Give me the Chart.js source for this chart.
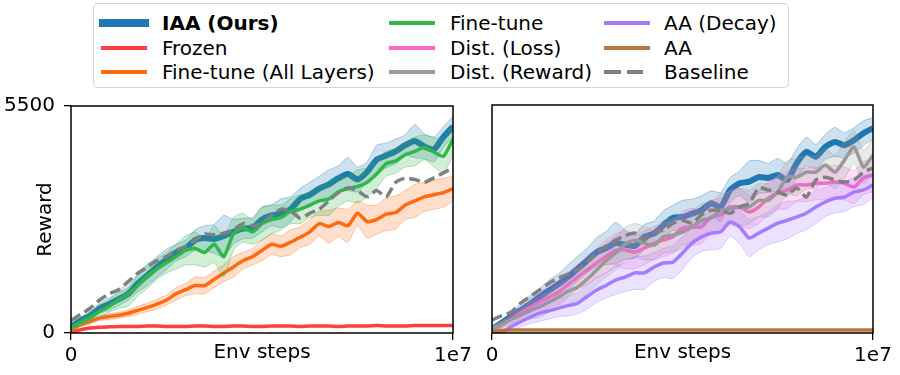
<!DOCTYPE html>
<html>
<head>
<meta charset="utf-8">
<script src="https://cdn.jsdelivr.net/npm/chart.js@4"></script>
<style>
  body { margin: 0; width: 900px; height: 375px; background: #fff; position: relative; overflow: hidden; font-family: "DejaVu Sans", sans-serif; }
  #legend { position: absolute; left: 93px; top: 3px; width: 696px; height: 85px; box-sizing: border-box; border: 1.5px solid #d4d4d4; border-radius: 5px; }
  .lg-line { position: absolute; height: 4px; }
  .lg-text { position: absolute; height: 24px; line-height: 24px; font-size: 20px; color: #000; white-space: nowrap; }
  canvas { position: absolute; top: 85px; }
  #left { left: 0; }
  #right { left: 480px; }
</style>
</head>
<body>
<div id="legend"></div>
<canvas id="left" width="480" height="290"></canvas>
<canvas id="right" width="420" height="290"></canvas>
<script>
// env steps in millions (axis runs to 1e7)
var steps = [0,0.25,0.5,0.75,1,1.25,1.5,1.75,2,2.25,2.5,2.75,3,3.25,3.5,3.75,4,4.25,4.5,4.75,5,5.25,5.5,5.75,6,6.25,6.5,6.75,7,7.25,7.5,7.75,8,8.25,8.5,8.75,9,9.25,9.5,9.75,10];
var xTicks = [0, 10];
var xTickLabels = ["0", "1e7"];
var yTicks = [0, 5500];

var names = ["IAA (Ours)", "Frozen", "Fine-tune (All Layers)", "Fine-tune", "Dist. (Loss)", "Dist. (Reward)", "AA (Decay)", "AA", "Baseline"];

// left panel
var iaaL = [150,300,420,600,700,820,950,1200,1400,1600,1780,1950,2050,2250,2300,2280,2350,2450,2530,2550,2750,2850,2900,3000,3250,3350,3500,3600,3750,3850,3720,3900,4200,4300,4400,4550,4650,4520,4450,4750,5000];
var iaaLSd = [50,80,100,120,150,150,150,200,250,250,250,200,200,250,300,350,500,300,250,250,300,250,350,300,250,300,300,350,300,400,300,250,350,300,300,250,400,300,300,250,250];
var frozenL = [20,80,120,140,150,160,160,160,170,170,160,160,160,170,170,160,160,170,170,160,160,170,170,170,160,170,170,170,160,170,170,170,180,170,170,170,180,180,180,180,180];
var ftAllL = [80,200,280,360,400,430,480,550,620,700,800,950,1050,1150,1150,1300,1450,1600,1750,1850,2000,2150,2100,2200,2320,2450,2650,2580,2680,2600,2900,2700,2750,2880,2920,3100,3200,3300,3350,3400,3500];
var ftAllLSd = [30,50,60,60,70,70,80,100,100,120,120,150,150,200,200,200,200,250,200,200,250,250,250,300,250,300,300,400,350,400,300,400,350,400,400,350,400,350,350,350,300];
var ftL = [120,250,380,520,650,800,950,1150,1380,1550,1700,1850,2000,2050,1950,2150,1850,2400,2550,2450,2650,2750,2800,2950,3000,3100,3200,3250,3420,3500,3550,3650,3850,4100,4170,4320,4400,4500,4380,4280,4700];
var ftLSd = [50,80,100,150,150,200,300,250,300,250,250,300,350,400,350,450,500,400,350,300,400,350,300,300,350,300,350,400,350,300,400,350,350,300,300,300,350,300,350,400,400];
var baseL = [300,450,600,800,950,1050,1250,1450,1600,1750,1850,2000,2100,2250,2400,2380,2420,2500,2650,2600,2650,2850,3000,2960,2780,2900,3000,3200,3400,3520,3450,3300,3450,3300,3650,3750,3720,3650,3760,3880,4000];

// right panel
var iaaR = [100,240,400,550,700,870,1030,1180,1350,1550,1750,1950,2050,2170,2130,2100,2320,2400,2600,2780,2800,2880,2960,3130,3040,3450,3610,3650,3760,3740,3810,3690,4100,4370,4250,4490,4610,4530,4650,4820,4940];
var iaaRSd = [50,80,100,150,200,200,250,250,300,300,300,350,400,500,350,300,300,300,350,300,400,350,350,300,350,300,300,500,400,350,400,400,350,350,300,300,350,300,300,300,250];
var distLossR = [80,190,330,480,620,750,870,990,1170,1350,1520,1690,1850,2000,2000,1950,2050,2170,2240,2320,2530,2560,2560,2800,2850,3040,3040,2920,3040,3250,3380,3450,3570,3570,3610,3610,3640,3610,3520,3740,3810];
var distLossRSd = [50,80,100,150,200,250,250,300,300,300,350,350,400,400,450,400,400,400,400,400,400,450,400,400,400,400,450,400,400,400,400,450,400,400,400,400,400,400,400,400,400];
var distRewR = [120,200,320,430,540,630,750,870,1000,1110,1300,1520,1750,1930,2150,2240,2170,2120,2320,2360,2440,2560,2720,2770,2960,3000,3040,3040,3200,3200,3400,3760,3760,3880,3880,4050,3880,4170,4490,4000,4290];
var distRewRSd = [50,80,100,150,200,250,250,300,300,300,350,350,400,400,400,400,400,350,400,400,400,400,400,400,400,400,450,400,400,400,400,400,450,400,400,400,400,450,400,400,400];
var aaDecayR = [0,20,150,270,380,480,540,600,660,720,880,1040,1150,1280,1350,1450,1450,1590,1690,1710,1930,2170,2320,2410,2440,2680,2560,2290,2410,2530,2650,2720,2800,2890,3040,3160,3250,3280,3400,3450,3570];
var aaDecayRSd = [20,40,80,120,150,200,200,200,250,250,300,300,300,350,350,400,400,350,350,400,400,350,350,400,400,350,400,450,400,400,450,450,400,400,400,350,350,350,350,350,300];
var aaR = [40,60,70,70,70,75,75,75,70,70,75,75,75,70,70,75,75,75,70,70,75,75,75,70,70,75,75,75,70,70,75,75,75,70,70,75,75,75,70,75,75];
var baseR = [310,420,500,720,880,1040,1200,1330,1420,1520,1720,1930,2100,2240,2350,2410,2240,2440,2480,2650,2720,2650,2850,2960,2960,2890,3040,3130,3500,3450,3400,3330,3500,3280,3690,3760,3690,3640,3690,3880,3980];

var colors = ["#1f77b4", "#ff4040", "#ff6a10", "#30b846", "#ff66cc", "#999999", "#a67cff", "#b87741", "#808080"];

Chart.defaults.font.family = '"DejaVu Sans", sans-serif';
Chart.defaults.color = "#000";

function hexA(hex, a) {
  var r = parseInt(hex.slice(1, 3), 16), g = parseInt(hex.slice(3, 5), 16), b = parseInt(hex.slice(5, 7), 16);
  return "rgba(" + r + "," + g + "," + b + "," + a + ")";
}

// k = plotting index (later ones sit on top)
function lineSet(data, k, width, dash) {
  return {
    data: data, borderColor: colors[k], borderWidth: width, borderDash: dash || [],
    pointRadius: 0, fill: false, tension: 0.2, order: 200 - 10 * k - 1,
  };
}

function bandSets(mean, sd, k) {
  var lo = mean.map(function (v, i) { return v - sd[i]; });
  var hi = mean.map(function (v, i) { return v + sd[i]; });
  return [
    { data: lo, borderColor: hexA(colors[k], 0.35), borderWidth: 1, pointRadius: 0, fill: false, tension: 0.2, order: 200 - 10 * k },
    { data: hi, borderColor: hexA(colors[k], 0.35), borderWidth: 1, pointRadius: 0, fill: "-1",
      backgroundColor: hexA(colors[k], 0.22), tension: 0.2, order: 200 - 10 * k },
  ];
}

var framePlugin = {
  id: "frame",
  afterDraw: function (chart) {
    var a = chart.chartArea, c = chart.ctx;
    c.save();
    c.strokeStyle = "#000";
    c.lineWidth = 1.5;
    c.strokeRect(a.left, a.top, a.right - a.left, a.bottom - a.top);
    c.restore();
  },
};

function makeOptions(yWidth, showY) {
  return {
    responsive: false,
    animation: false,
    devicePixelRatio: 1,
    layout: { padding: { left: 0, right: 27, top: 20, bottom: 0 } },
    plugins: { legend: { display: false }, tooltip: { enabled: false } },
    scales: {
      x: {
        type: "linear", min: 0, max: 10,
        afterBuildTicks: function (s) { s.ticks = xTicks.map(function (v) { return { value: v }; }); },
        afterFit: function (s) { s.height = 42; },
        grid: { drawOnChartArea: false, drawTicks: true, tickLength: 7, color: "#000", lineWidth: 1.3 },
        border: { display: false },
        ticks: {
          font: { size: 20 }, padding: 4, maxRotation: 0, autoSkip: false,
          callback: function (v, i) { return xTickLabels[i]; },
        },
        title: { display: true, text: "Env steps", font: { size: 20 }, padding: { top: 0, bottom: 10 } },
      },
      y: {
        min: 0, max: 5500,
        afterBuildTicks: function (s) { s.ticks = yTicks.map(function (v) { return { value: v }; }); },
        afterFit: function (s) { s.width = yWidth; },
        grid: { display: showY, drawOnChartArea: false, drawTicks: true, tickLength: 7, color: "#000", lineWidth: 1.3 },
        border: { display: false },
        ticks: { display: showY, font: { size: 20 }, padding: 9, callback: function (v) { return String(v); } },
        title: { display: showY, text: "Reward", font: { size: 20 }, padding: { top: 34, bottom: 0 } },
      },
    },
  };
}

var leftSets = [].concat(
  bandSets(iaaL, iaaLSd, 0), [lineSet(iaaL, 0, 6)],
  [lineSet(frozenL, 1, 3.5)],
  bandSets(ftAllL, ftAllLSd, 2), [lineSet(ftAllL, 2, 3.5)],
  bandSets(ftL, ftLSd, 3), [lineSet(ftL, 3, 3.5)],
  [lineSet(baseL, 8, 3.5, [11, 5])]
);

var rightSets = [].concat(
  bandSets(iaaR, iaaRSd, 0), [lineSet(iaaR, 0, 6)],
  bandSets(distLossR, distLossRSd, 4), [lineSet(distLossR, 4, 3.5)],
  bandSets(distRewR, distRewRSd, 5), [lineSet(distRewR, 5, 3.5)],
  bandSets(aaDecayR, aaDecayRSd, 6), [lineSet(aaDecayR, 6, 3.5)],
  [lineSet(aaR, 7, 3.5)],
  [lineSet(baseR, 8, 3.5, [11, 5])]
);

function toPoints(sets) {
  return sets.map(function (d) {
    d.data = d.data.map(function (v, i) { return { x: steps[i], y: v }; });
    return d;
  });
}

new Chart(document.getElementById("left").getContext("2d"), {
  type: "line",
  data: { datasets: toPoints(leftSets) },
  options: makeOptions(71, true),
  plugins: [framePlugin],
});

new Chart(document.getElementById("right").getContext("2d"), {
  type: "line",
  data: { datasets: toPoints(rightSets) },
  options: makeOptions(12, false),
  plugins: [framePlugin],
});

// legend, 3 columns x 3 rows
function buildLegend() {
  var lineX = [101, 389, 604], textX = [162, 450, 664], rowY = [23, 48, 72];
  names.forEach(function (name, i) {
    var col = Math.floor(i / 3), row = i % 3;
    var parts = i === 8 ? [[0, 17], [23, 16]] : [[0, 46]];
    parts.forEach(function (p) {
      var ln = document.createElement("div");
      ln.className = "lg-line";
      var h = i === 0 ? 8 : 4;
      ln.style.left = (i === 0 ? lineX[col] - 2 : lineX[col]) + p[0] + "px";
      ln.style.width = (i === 0 ? 50 : p[1]) + "px";
      ln.style.height = h + "px";
      ln.style.top = rowY[row] - h / 2 + "px";
      ln.style.background = colors[i];
      document.body.appendChild(ln);
    });
    var tx = document.createElement("div");
    tx.className = "lg-text";
    tx.style.left = textX[col] + "px";
    tx.style.top = rowY[row] - 12 + "px";
    if (i === 0) tx.style.fontWeight = "bold";
    tx.textContent = name;
    document.body.appendChild(tx);
  });
}
buildLegend();
</script>
</body>
</html>
